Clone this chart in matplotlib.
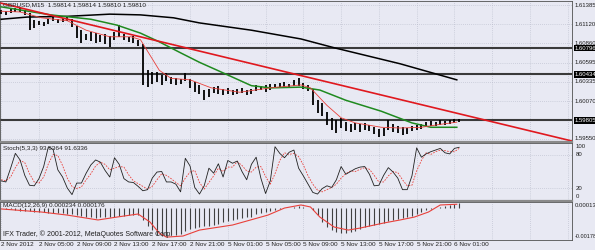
import numpy as np
import matplotlib
matplotlib.use("Agg")
import matplotlib.pyplot as plt
from matplotlib.lines import Line2D
from matplotlib.transforms import blended_transform_factory

plt.rcParams["font.family"] = ["Liberation Sans", "DejaVu Sans"]

# ---------------------------------------------------------------------
# GBPUSD M15, 2 Nov - 6 Nov 2012 (one entry per two M15 bars)
# ---------------------------------------------------------------------
bars = np.arange(0, 196, 2)

highs = [1.6132, 1.6130, 1.6133, 1.6134, 1.6136, 1.6132, 1.6128, 1.6118, 1.6117, 1.6115,
         1.6119, 1.6122, 1.6119, 1.6121, 1.6122, 1.6119, 1.6110, 1.6104, 1.6099, 1.6102,
         1.6100, 1.6097, 1.6099, 1.6096, 1.6102, 1.6111, 1.6099, 1.6095, 1.6096, 1.6091,
         1.6085, 1.6049, 1.6047, 1.6047, 1.6043, 1.6045, 1.6040, 1.6038, 1.6037, 1.6045,
         1.6037, 1.6033, 1.6029, 1.6022, 1.6023, 1.6026, 1.6028, 1.6023, 1.6025, 1.6022,
         1.6023, 1.6025, 1.6022, 1.6023, 1.6029, 1.6028, 1.6029, 1.6030, 1.6030, 1.6032,
         1.6033, 1.6030, 1.6036, 1.6038, 1.6032, 1.6029, 1.6023, 1.6008, 1.6004, 1.5992,
         1.5984, 1.5981, 1.5984, 1.5978, 1.5975, 1.5977, 1.5975, 1.5977, 1.5974, 1.5971,
         1.5969, 1.5970, 1.5981, 1.5975, 1.5973, 1.5971, 1.5970, 1.5973, 1.5974, 1.5975,
         1.5978, 1.5980, 1.5978, 1.5981, 1.5980, 1.5981, 1.5982, 1.5982]
lows = [1.6126, 1.6125, 1.6128, 1.6129, 1.6129, 1.6125, 1.6104, 1.6107, 1.6111, 1.6110,
        1.6112, 1.6117, 1.6114, 1.6115, 1.6117, 1.6108, 1.6093, 1.6086, 1.6091, 1.6089,
        1.6086, 1.6088, 1.6085, 1.6081, 1.6091, 1.6095, 1.6091, 1.6088, 1.6086, 1.6082,
        1.6029, 1.6026, 1.6030, 1.6033, 1.6029, 1.6034, 1.6030, 1.6029, 1.6030, 1.6034,
        1.6025, 1.6019, 1.6017, 1.6008, 1.6012, 1.6018, 1.6017, 1.6015, 1.6017, 1.6015,
        1.6017, 1.6018, 1.6015, 1.6017, 1.6021, 1.6022, 1.6019, 1.6022, 1.6025, 1.6026,
        1.6025, 1.6025, 1.6028, 1.6028, 1.6023, 1.6021, 1.6001, 1.5991, 1.5986, 1.5974,
        1.5967, 1.5963, 1.5970, 1.5966, 1.5965, 1.5967, 1.5965, 1.5967, 1.5966, 1.5962,
        1.5958, 1.5959, 1.5967, 1.5965, 1.5963, 1.5960, 1.5962, 1.5966, 1.5967, 1.5969,
        1.5971, 1.5973, 1.5973, 1.5974, 1.5974, 1.5975, 1.5977, 1.5978]

# moving averages, read at points along each curve
fast_ma_bars = [0, 8, 17, 28, 36, 46, 55, 59, 63, 67, 72, 80, 89, 101, 114, 127, 131,
                138, 144, 150, 161, 169, 178, 186, 193]
fast_ma = [1.6130, 1.6129, 1.6121, 1.6117, 1.6104, 1.6095, 1.6095, 1.6091, 1.6070, 1.6049,
           1.6038, 1.6036, 1.6025, 1.6019, 1.6025, 1.6029, 1.6025, 1.6001, 1.5984, 1.5977,
           1.5971, 1.5970, 1.5971, 1.5975, 1.5978]
mid_ma_bars = [0, 21, 38, 49, 59, 67, 76, 84, 93, 106, 114, 127, 135, 146, 161, 174, 182, 193]
mid_ma = [1.6136, 1.6125, 1.6119, 1.6111, 1.6100, 1.6088, 1.6073, 1.6060, 1.6047, 1.6028,
          1.6025, 1.6026, 1.6022, 1.6008, 1.5993, 1.5977, 1.5971, 1.5971]
slow_ma_bars = [0, 11, 28, 46, 59, 73, 84, 106, 127, 141, 169, 193]
slow_ma = [1.6119, 1.6122, 1.6123, 1.6126, 1.6125, 1.6121, 1.6114, 1.6104, 1.6092, 1.6080,
           1.6058, 1.6036]

trend_bars = [0, 242]
trend_prices = [1.6141, 1.5952]

levels = [1.60796, 1.60434, 1.59805]
price_ticks = [1.61385, 1.61120, 1.60860, 1.60595, 1.60335, 1.60070, 1.59550]

# Stochastic(5,3,3)
stoch_k = [33, 31, 56, 83, 71, 43, 25, 24, 37, 59,
           95, 90, 53, 40, 20, 8, 29, 29, 47, 62,
           71, 67, 52, 40, 75, 63, 37, 31, 30, 23,
           15, 17, 38, 49, 50, 31, 31, 27, 13, 74,
           60, 21, 9, 24, 56, 47, 64, 40, 70, 65,
           69, 50, 35, 63, 76, 38, 10, 33, 95, 83,
           75, 85, 89, 56, 42, 27, 12, 9, 19, 24,
           21, 35, 59, 45, 50, 55, 58, 59, 45, 24,
           25, 43, 57, 49, 38, 17, 17, 42, 93, 76,
           82, 86, 89, 92, 84, 82, 92, 94]
stoch_d = [35, 33, 40, 57, 70, 66, 46, 31, 29, 40,
           64, 81, 79, 61, 38, 23, 19, 22, 35, 46,
           60, 67, 63, 53, 56, 59, 58, 44, 33, 28,
           23, 18, 23, 35, 46, 43, 37, 30, 24, 38,
           49, 52, 30, 18, 30, 42, 56, 50, 58, 58,
           68, 61, 51, 49, 58, 59, 41, 27, 46, 70,
           84, 81, 83, 77, 62, 42, 27, 16, 13, 17,
           21, 27, 38, 46, 51, 50, 54, 57, 54, 43,
           31, 31, 42, 50, 48, 35, 24, 25, 51, 70,
           84, 81, 86, 89, 88, 86, 86, 92]
stoch_levels = [100, 80, 20, 0]

# MACD(12,26,9), histogram in units of 1e-4
macd_hist_e4 = [-0.5, -0.8, -1.0, -1.2, -1.8, -2.0, -2.2, -2.3, -2.5, -2.6,
                -2.8, -3.0, -3.2, -3.3, -3.4, -3.6, -4.0, -4.5, -5.3, -5.5,
                -5.6, -5.5, -5.4, -5.2, -5.0, -4.8, -4.5, -4.4, -4.3, -4.2,
                -7.0, -10.0, -12.5, -15.5, -16.0, -16.0, -15.5, -15.0, -14.5, -13.0,
                -12.0, -11.5, -11.0, -10.5, -10.0, -9.5, -9.0, -8.0, -7.5, -7.0,
                -6.5, -6.0, -5.5, -5.0, -3.8, -3.0, -2.5, -2.0, -1.5, -1.0,
                -0.5, 0.0, 0.5, 0.6, 0.5, 0.0, -1.5, -4.0, -8.0, -11.0,
                -12.5, -13.5, -14.0, -14.0, -13.8, -13.0, -12.0, -11.0, -10.0, -9.5,
                -9.0, -8.5, -7.5, -7.0, -6.5, -6.0, -5.5, -4.5, -3.5, -2.5,
                -1.5, -0.8, -0.3, 0.3, 0.8, 1.2, 1.8, 2.3]
signal_bars = [0, 17, 28, 41, 49, 58, 63, 67, 70, 77, 84, 98, 113, 120, 127, 131, 135,
               141, 147, 152, 162, 169, 175, 181, 186, 193]
signal = [-0.00008, -0.00025, -0.00042, -0.00069, -0.00053, -0.00036, -0.00080, -0.00142,
          -0.00164, -0.00158, -0.00125, -0.00097, -0.00042, -0.00003, 0.00014, 0.00003,
          -0.00053, -0.00108, -0.00125, -0.00114, -0.00086, -0.00069, -0.00053, -0.00025,
          0.00014, 0.00018]

time_labels = ["2 Nov 2012", "2 Nov 05:00", "2 Nov 09:00", "2 Nov 13:00", "2 Nov 17:00",
               "2 Nov 21:00", "5 Nov 01:00", "5 Nov 05:00", "5 Nov 09:00", "5 Nov 13:00",
               "5 Nov 17:00", "5 Nov 21:00", "6 Nov 01:00"]
label_bars = np.arange(0, 16 * len(time_labels), 16)
grid_bars = np.arange(0, 256, 16)

# ---------------------------------------------------------------------
# Layout (pixel boxes on a 595x250 canvas)
# ---------------------------------------------------------------------
W, H = 595, 250
BG = "#E8E9F3"
GRID = "#B4B6C6"
FS = 4.6      # chart texts
FS_AX = 4.3   # right-hand scale

fig = plt.figure(figsize=(W / 100, H / 100), dpi=100)
fig.patch.set_facecolor(BG)


def px_axes(x0, y0, x1, y1):
    ax = fig.add_axes([x0 / W, 1 - y1 / H, (x1 - x0) / W, (y1 - y0) / H])
    ax.set_facecolor(BG)
    ax.set_xlim(-0.5, 241.8)
    ax.set_xticks([])
    ax.set_yticks([])
    for s in ax.spines.values():
        s.set_color("#505050")
        s.set_linewidth(0.6)
    for b in grid_bars:
        ax.axvline(b, color=GRID, lw=0.5, ls=(0, (1, 2)), zorder=0)
    return ax


ax_p = px_axes(0, 0.5, 572, 141)
ax_s = px_axes(0, 143, 572, 200)
ax_m = px_axes(0, 202, 572, 240)

# ---- price panel ----
ax_p.set_ylim(1.59522, 1.61447)
for p in price_ticks:
    ax_p.axhline(p, color=GRID, lw=0.5, ls=(0, (1, 2)), zorder=0)
for lv in levels:
    ax_p.axhline(lv, color="#3A3A3A", lw=1.5, zorder=2)

ax_p.vlines(bars, lows, highs, color="black", lw=1.3, zorder=3)
ax_p.plot(slow_ma_bars, slow_ma, color="black", lw=1.1, zorder=4)
ax_p.plot(mid_ma_bars, mid_ma, color="#1F8A1F", lw=1.1, zorder=4)
ax_p.plot(fast_ma_bars, fast_ma, color="#E8403A", lw=0.6, zorder=5)
ax_p.plot(trend_bars, trend_prices, color="#E0181E", lw=1.2, zorder=5)

tr_p = ax_p.get_yaxis_transform()
for p in price_ticks:
    ax_p.text(1.004, p, f"{p:.5f}", transform=tr_p, fontsize=FS_AX, va="center",
              ha="left", color="#202020", clip_on=False)
for lv in levels:
    ax_p.text(1.004, lv, f"{lv:.5f}", transform=tr_p, fontsize=FS_AX, va="center",
              ha="left", color="white", clip_on=False, zorder=6,
              bbox=dict(boxstyle="square,pad=0.12", fc="black", ec="none"))
ax_p.text(0.006, 0.985, "GBPUSD,M15  1.59814 1.59814 1.59810 1.59810",
          transform=ax_p.transAxes, fontsize=FS, va="top", ha="left", color="#202020",
          zorder=6)

# ---- stochastic panel ----
ax_s.set_ylim(-1.8, 101.8)
for lv in (20, 80):
    ax_s.axhline(lv, color=GRID, lw=0.5, ls=(0, (1, 2)), zorder=0)
ax_s.plot(bars, stoch_d, color="#E8403A", lw=0.6, ls=(0, (2, 1.5)))
ax_s.plot(bars, stoch_k, color="#202020", lw=0.6)
ax_s.text(0.006, 0.95, "Stoch(5,3,3) 93.6364 91.6336", transform=ax_s.transAxes,
          fontsize=FS, va="top", ha="left", color="#202020")
tr_s = ax_s.get_yaxis_transform()
for lv, va in zip(stoch_levels, ["top", "center", "center", "bottom"]):
    ax_s.text(1.006, lv, str(lv), transform=tr_s, fontsize=FS_AX, va=va, ha="left",
              color="#202020", clip_on=False)

# ---- MACD panel ----
ax_m.set_ylim(-0.0018, 0.000305)
ax_m.vlines(bars, 0, np.array(macd_hist_e4) * 1e-4, color="#404040", lw=0.8)
ax_m.plot(signal_bars, signal, color="#E8403A", lw=0.8)
ax_m.text(0.006, 0.97, "MACD(12,26,9) 0.000234 0.000176", transform=ax_m.transAxes,
          fontsize=FS, va="top", ha="left", color="#202020")
ax_m.text(0.006, 0.04, "IFX Trader, \u00a9 2001-2012, MetaQuotes Software Corp.",
          transform=ax_m.transAxes, fontsize=FS + 0.4, va="bottom", ha="left",
          color="#202020")
ax_m.text(1.004, 0.98, "0.00013", transform=ax_m.transAxes, fontsize=FS_AX, va="top",
          ha="left", color="#202020", clip_on=False)
ax_m.text(1.004, 0.02, "-0.00178", transform=ax_m.transAxes, fontsize=FS_AX - 0.3,
          va="bottom", ha="left", color="#202020", clip_on=False)

# panel separators
for y in (142, 201):
    fig.add_artist(Line2D([0, 572 / W], [1 - y / H] * 2, transform=fig.transFigure,
                          color="#8A8A8A", lw=1.6))

# time axis labels
tr_t = blended_transform_factory(ax_m.transData, fig.transFigure)
for b, lab in zip(label_bars, time_labels):
    ax_m.text(b, 1 - 245 / H, lab, transform=tr_t, fontsize=FS, va="center",
              ha="left", color="#202020", clip_on=False)

fig.savefig("out.png", dpi=100, facecolor=BG)
